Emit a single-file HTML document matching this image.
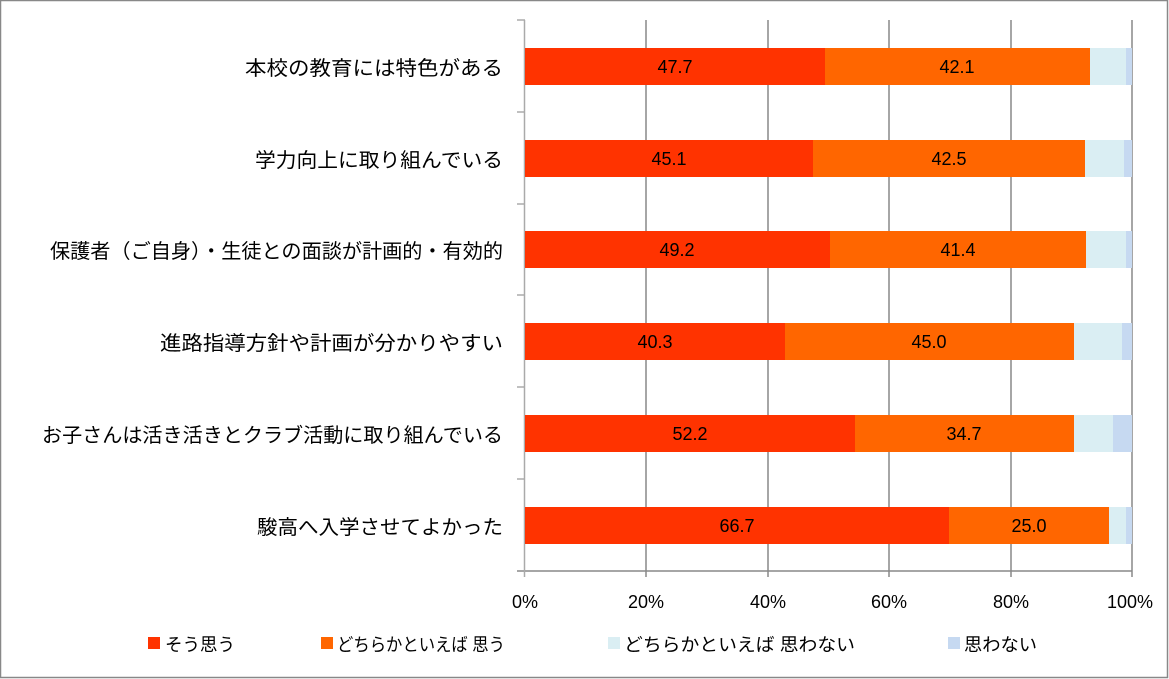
<!DOCTYPE html>
<html><head><meta charset="utf-8"><style>
html,body{margin:0;padding:0;background:#fff}
svg{display:block}
text{font-family:"Liberation Sans","Noto Sans CJK JP",sans-serif}
</style></head><body>
<svg width="1169" height="679" viewBox="0 0 1169 679" xmlns="http://www.w3.org/2000/svg">
<rect x="0.5" y="0.5" width="1167" height="677" fill="#fff" stroke="#888" stroke-width="1.5"/>
<g stroke="#888" stroke-width="1.5">
<line x1="646" y1="20" x2="646" y2="571"/>
<line x1="768" y1="20" x2="768" y2="571"/>
<line x1="889" y1="20" x2="889" y2="571"/>
<line x1="1011" y1="20" x2="1011" y2="571"/>
<line x1="1132" y1="20" x2="1132" y2="571"/>
<line x1="517" y1="571" x2="1132" y2="571"/>
<line x1="646" y1="571" x2="646" y2="577"/>
<line x1="768" y1="571" x2="768" y2="577"/>
<line x1="889" y1="571" x2="889" y2="577"/>
<line x1="1011" y1="571" x2="1011" y2="577"/>
<line x1="1132" y1="571" x2="1132" y2="577"/>
</g>
<g stroke="#aaa" stroke-width="1.5">
<line x1="524.5" y1="20" x2="524.5" y2="577"/>
<line x1="517" y1="20" x2="525" y2="20"/>
<line x1="517" y1="112" x2="525" y2="112"/>
<line x1="517" y1="204" x2="525" y2="204"/>
<line x1="517" y1="295" x2="525" y2="295"/>
<line x1="517" y1="387" x2="525" y2="387"/>
<line x1="517" y1="479" x2="525" y2="479"/>
</g>
<g>
<rect x="525" y="48" width="300" height="37" fill="#FF3300"/><rect x="825" y="48" width="265" height="37" fill="#FF6600"/><rect x="1090" y="48" width="36" height="37" fill="#DAEEF3"/><rect x="1126" y="48" width="6" height="37" fill="#C6D9F1"/>
<rect x="525" y="140" width="288" height="37" fill="#FF3300"/><rect x="813" y="140" width="272" height="37" fill="#FF6600"/><rect x="1085" y="140" width="39" height="37" fill="#DAEEF3"/><rect x="1124" y="140" width="8" height="37" fill="#C6D9F1"/>
<rect x="525" y="231" width="305" height="37" fill="#FF3300"/><rect x="830" y="231" width="256" height="37" fill="#FF6600"/><rect x="1086" y="231" width="40" height="37" fill="#DAEEF3"/><rect x="1126" y="231" width="6" height="37" fill="#C6D9F1"/>
<rect x="525" y="323" width="260" height="37" fill="#FF3300"/><rect x="785" y="323" width="289" height="37" fill="#FF6600"/><rect x="1074" y="323" width="48" height="37" fill="#DAEEF3"/><rect x="1122" y="323" width="10" height="37" fill="#C6D9F1"/>
<rect x="525" y="415" width="330" height="37" fill="#FF3300"/><rect x="855" y="415" width="219" height="37" fill="#FF6600"/><rect x="1074" y="415" width="39" height="37" fill="#DAEEF3"/><rect x="1113" y="415" width="19" height="37" fill="#C6D9F1"/>
<rect x="525" y="507" width="424" height="37" fill="#FF3300"/><rect x="949" y="507" width="160" height="37" fill="#FF6600"/><rect x="1109" y="507" width="17" height="37" fill="#DAEEF3"/><rect x="1126" y="507" width="6" height="37" fill="#C6D9F1"/>
</g>
<g font-size="18" fill="#000" text-anchor="middle">
<text x="675" y="73">47.7</text><text x="957" y="73">42.1</text>
<text x="669" y="165">45.1</text><text x="949" y="165">42.5</text>
<text x="677" y="256">49.2</text><text x="958" y="256">41.4</text>
<text x="655" y="348">40.3</text><text x="929" y="348">45.0</text>
<text x="690" y="440">52.2</text><text x="964" y="440">34.7</text>
<text x="737" y="532">66.7</text><text x="1029" y="532">25.0</text>
</g>
<g font-size="20" fill="#000">
<text x="245" y="75" textLength="258" lengthAdjust="spacingAndGlyphs">本校の教育には特色がある</text>
<text x="255" y="167" textLength="248" lengthAdjust="spacingAndGlyphs">学力向上に取り組んでいる</text>
<text x="50" y="258" textLength="453" lengthAdjust="spacingAndGlyphs">保護者（ご自身）・生徒との面談が計画的・有効的</text>
<text x="160" y="350" textLength="343" lengthAdjust="spacingAndGlyphs">進路指導方針や計画が分かりやすい</text>
<text x="42" y="442" textLength="461" lengthAdjust="spacingAndGlyphs">お子さんは活き活きとクラブ活動に取り組んでいる</text>
<text x="257" y="534" textLength="246" lengthAdjust="spacingAndGlyphs">駿高へ入学させてよかった</text>
</g>
<g font-size="18" fill="#000" text-anchor="middle">
<text x="525" y="608">0%</text><text x="646" y="608">20%</text><text x="768" y="608">40%</text>
<text x="889" y="608">60%</text><text x="1011" y="608">80%</text><text x="1130" y="608">100%</text>
</g>
<g font-size="18" fill="#000">
<rect x="148" y="637" width="12" height="12" fill="#FF3300"/><text x="165" y="651" textLength="70" lengthAdjust="spacingAndGlyphs">そう思う</text>
<rect x="321" y="637" width="12" height="12" fill="#FF6600"/><text x="337" y="651" textLength="168" lengthAdjust="spacingAndGlyphs">どちらかといえば 思う</text>
<rect x="608" y="637" width="12" height="12" fill="#DAEEF3"/><text x="624" y="651" textLength="231" lengthAdjust="spacingAndGlyphs">どちらかといえば 思わない</text>
<rect x="948" y="637" width="12" height="12" fill="#C6D9F1"/><text x="964" y="651" textLength="73" lengthAdjust="spacingAndGlyphs">思わない</text>
</g>
</svg>
</body></html>
